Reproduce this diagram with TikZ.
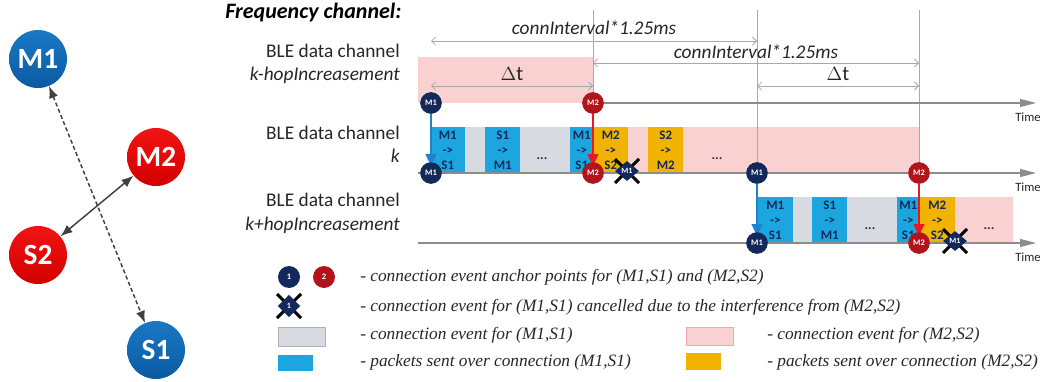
\documentclass[tikz,border=0pt]{standalone}
\usepackage{fontspec}
\setmainfont{Carlito}
\newfontfamily\legfont{Liberation Serif}
\usetikzlibrary{arrows.meta,shapes.geometric}
\definecolor{navy}{HTML}{14295B}
\definecolor{dred}{HTML}{B3141C}
\definecolor{pblue}{HTML}{1BA6E0}
\definecolor{pgrey}{HTML}{D7DAE1}
\definecolor{ppink}{HTML}{FAD1D1}
\definecolor{porange}{HTML}{F2B300}
\definecolor{nbluet}{HTML}{1A78C4}
\definecolor{nblueb}{HTML}{0B5AA3}
\definecolor{nredt}{HTML}{F21414}
\definecolor{nredb}{HTML}{D20000}
\definecolor{arrblue}{HTML}{1E82CE}
\definecolor{arrred}{HTML}{EA1820}
\definecolor{guide}{HTML}{A8A8A8}
\definecolor{txt}{HTML}{262626}
\begin{document}
\begin{tikzpicture}[x=0.75pt,y=-0.75pt,
  bignode/.style={circle,minimum size=43.5pt,inner sep=0pt,text=white,font=\bfseries\fontsize{22}{22}\selectfont},
  bluenode/.style={bignode,top color=nbluet,bottom color=nblueb},
  rednode/.style={bignode,top color=nredt,bottom color=nredb},
  link/.style={draw=black!75,line width=1.1pt,{Latex[length=9pt,width=7pt]}-{Latex[length=9pt,width=7pt]}},
  anc/.style={circle,minimum size=16pt,inner sep=0pt,text=white,font=\bfseries\fontsize{6.3}{6.3}\selectfont},
  ancb/.style={anc,fill=navy},
  ancr/.style={anc,fill=dred},
  xmark/.style={diamond,fill=navy,inner sep=0pt,minimum width=18pt,minimum height=15pt,text=white,font=\bfseries\fontsize{6}{6}\selectfont},
  xline/.style={line width=2.2pt,black},
  blk/.style={rectangle,inner sep=0pt,minimum height=34.5pt,anchor=north west,align=center,text=navy,font=\bfseries\fontsize{9.75}{11.2}\selectfont},
  bblk/.style={blk,fill=pblue},
  oblk/.style={blk,fill=porange},
  dots/.style={text=navy,font=\bfseries\fontsize{10}{10}\selectfont},
  axis/.style={draw=black!45,line width=0.8pt,-{Triangle[length=12pt,width=6pt]}},
  axisline/.style={draw=black!45,line width=0.8pt},
  guideline/.style={draw=guide,line width=0.6pt},
  dim/.style={draw=guide,line width=0.6pt,{Straight Barb[length=3pt,width=6pt]}-{Straight Barb[length=3pt,width=6pt]}},
  dimlabel/.style={anchor=base,text=txt,font=\itshape\fontsize{14.5}{17}\selectfont},
  rowlab/.style={anchor=base east,text=txt,font=\fontsize{14.5}{17}\selectfont,inner sep=0pt},
  timel/.style={anchor=base,text=txt,font=\fontsize{9.5}{10}\selectfont,inner sep=0pt},
  legtext/.style={anchor=west,text=txt,font=\legfont\itshape\fontsize{13}{15}\selectfont,inner sep=0pt},
  pushb/.style={draw=arrblue,line width=1.6pt,-{Triangle[length=9pt,width=8pt]},shorten >=-3pt},
  pushr/.style={draw=arrred,line width=1.6pt,-{Triangle[length=9pt,width=8pt]},shorten >=-3pt}
]
\useasboundingbox (0,0) rectangle (1043,382);

% ---------- left: topology ----------
\node[bluenode] (M1) at (38,59) {M1};
\node[rednode] (M2) at (156,157) {M2};
\node[rednode] (S2) at (38,255) {S2};
\node[bluenode] (S1) at (156,350) {S1};
\draw[link,dash pattern=on 3pt off 2pt] (M1) -- (S1);
\draw[link] (M2) -- (S2);

% ---------- title and row labels ----------
\node[anchor=base west,inner sep=0pt,text=black,font=\bfseries\itshape\fontsize{16.5}{18}\selectfont] (title) at (225,18) {Frequency channel:};
\node[rowlab] (r1a) at (400,57) {BLE data channel};
\node[rowlab,font=\itshape\fontsize{14.5}{17}\selectfont] (r1b) at (400,80) {k-hopIncreasement};
\node[rowlab] (r2a) at (400,139) {BLE data channel};
\node[rowlab,font=\itshape\fontsize{14.5}{17}\selectfont] (r2b) at (400,162) {k};
\node[rowlab] (r3a) at (400,206) {BLE data channel};
\node[rowlab,font=\itshape\fontsize{14.5}{17}\selectfont] (r3b) at (400,230) {k+hopIncreasement};

% ---------- connection event bands ----------
\fill[ppink] (418,57) rectangle (593,103);
\fill[pgrey] (431,127) rectangle (593,173);
\fill[ppink] (593,127) rectangle (919,173);
\fill[pgrey] (757,197) rectangle (919,243);
\fill[ppink] (919,197) rectangle (1013,243);

% ---------- packets, row k ----------
\node[bblk,minimum width=26.25pt] (p1) at (430,127) {M1\\->\\S1};
\node[bblk,minimum width=26.25pt] (p2) at (485,127) {S1\\->\\M1};
\node[bblk,minimum width=17.25pt] (p3) at (570,127) {M1\\->\\S1};
\node[oblk,minimum width=26.25pt] (p4) at (593,127) {M2\\->\\S2};
\node[oblk,minimum width=26.25pt] (p5) at (648,127) {S2\\->\\M2};
\node[dots] (d1) at (542,159) {...};
\node[dots] (d2) at (717,159) {...};

% ---------- packets, row k+hop ----------
\node[bblk,minimum width=27pt] (q1) at (757,197) {M1\\->\\S1};
\node[bblk,minimum width=26.25pt] (q2) at (812,197) {S1\\->\\M1};
\node[bblk,minimum width=16.5pt] (q3) at (897,197) {M1\\->\\S1};
\node[oblk,minimum width=27pt] (q4) at (919,197) {M2\\->\\S2};
\node[dots] (d3) at (870,229) {...};
\node[dots] (d4) at (989,229) {...};

% ---------- anchor circles (positions) ----------
\node[ancb] (a1) at (431,103) {M1};
\node[ancr] (a2) at (593,103) {M2};
\node[ancb] (b1) at (431,173) {M1};
\node[ancr] (b2) at (593,173) {M2};
\node[ancb] (b3) at (757,173) {M1};
\node[ancr] (b4) at (919,173) {M2};
\node[ancb] (c1) at (757,243) {M1};
\node[ancr] (c2) at (919,243) {M2};

% ---------- guide lines ----------
\coordinate (g1) at (593,10);
\coordinate (g2) at (757,10);
\coordinate (g3) at (919,10);
\draw[guideline] (g1) -- (a2);
\draw[guideline] (g2) -- (b3);
\draw[guideline] (g3) -- (b4);

% ---------- time axes ----------
\coordinate (x1e) at (1036,103);
\coordinate (x2s) at (418,173); \coordinate (x2e) at (1036,173);
\coordinate (x3s) at (418,243); \coordinate (x3e) at (1036,243);
\draw[axis] (a2) -- (x1e);
\draw[axis] (b4) -- (x2e);
\draw[axis] (c2) -- (x3e);
\draw[axisline] (x3s) -- (c1);
\draw[axisline] (c1) -- (c2);
\draw[axisline] (x2s) -- (b1);
\draw[axisline] (b1) -- (b2);
\draw[axisline] (b2) -- (b3);
\draw[axisline] (b3) -- (b4);
\node[timel] (t1) at (1028,121) {Time};
\node[timel] (t2) at (1028,191) {Time};
\node[timel] (t3) at (1028,261) {Time};

% ---------- event pushes ----------
\draw[pushb] (a1) -- (b1);
\draw[pushr] (a2) -- (b2);
\draw[pushb] (b3) -- (c1);
\draw[pushr] (b4) -- (c2);
\node[ancb] at (a1) {M1};
\node[ancr] at (a2) {M2};
\node[ancb] at (b1) {M1};
\node[ancr] at (b2) {M2};
\node[ancb] at (b3) {M1};
\node[ancr] at (b4) {M2};
\node[ancb] at (c1) {M1};
\node[ancr] at (c2) {M2};

% ---------- cancelled events (cross behind the mark) ----------
\coordinate (k1c) at (627,171);
\coordinate (k2c) at (955,241);
\draw[xline] ([shift={(-12,-12)}]k1c) -- ([shift={(12,12)}]k1c);
\draw[xline] ([shift={(-12,12)}]k1c) -- ([shift={(12,-12)}]k1c);
\node[xmark] (k1) at (k1c) {M1};
\draw[xline] ([shift={(-12,-12)}]k2c) -- ([shift={(12,12)}]k2c);
\draw[xline] ([shift={(-12,12)}]k2c) -- ([shift={(12,-12)}]k2c);
\node[xmark] (k2) at (k2c) {M1};

% ---------- dimension arrows ----------
\coordinate (e1a) at (431,41); \coordinate (e1b) at (757,41);
\coordinate (e2a) at (593,63); \coordinate (e2b) at (919,63);
\coordinate (e3a) at (431,86); \coordinate (e3b) at (593,86);
\coordinate (e4a) at (757,86); \coordinate (e4b) at (919,86);
\draw[dim] (e1a) -- (e1b);
\draw[dim] (e2a) -- (e2b);
\draw[dim] (e3a) -- (e3b);
\draw[dim] (e4a) -- (e4b);
\node[dimlabel] (l1) at (594,35) {connInterval*1.25ms};
\node[dimlabel] (l2) at (756,58) {connInterval*1.25ms};
\node[dimlabel,font=\fontsize{15.5}{17}\selectfont] (l3) at (512,80) {$\Delta$t};
\node[dimlabel,font=\fontsize{15.5}{17}\selectfont] (l4) at (838,80) {$\Delta$t};

% ---------- legend ----------
\node[anc,fill=navy,minimum size=16.5pt] (lg1) at (289,277) {1};
\node[anc,fill=dred,minimum size=16.5pt] (lg2) at (324,277) {2};
\coordinate (lg3c) at (289,306);
\draw[xline] ([shift={(-12,-12)}]lg3c) -- ([shift={(12,12)}]lg3c);
\draw[xline] ([shift={(-12,12)}]lg3c) -- ([shift={(12,-12)}]lg3c);
\node[xmark,minimum width=17pt,minimum height=17pt] (lg3) at (lg3c) {1};
\node[rectangle,fill=pgrey,draw=black!30,line width=0.4pt,minimum width=35pt,minimum height=14pt,inner sep=0pt] (lg4) at (301.5,336.5) {};
\node[rectangle,fill=pblue,minimum width=26.25pt,minimum height=12pt,inner sep=0pt] (lg5) at (295.5,363) {};
\node[rectangle,fill=ppink,draw=red!35,line width=0.4pt,minimum width=35pt,minimum height=13.5pt,inner sep=0pt] (lg6) at (709.5,336) {};
\node[rectangle,fill=porange,minimum width=26.25pt,minimum height=12.75pt,inner sep=0pt] (lg7) at (703.5,361.5) {};
\node[legtext] (lt1) at (360,277) {- connection event anchor points for (M1,S1) and (M2,S2)};
\node[legtext] (lt2) at (360,307) {- connection event for (M1,S1) cancelled due to the interference from (M2,S2)};
\node[legtext] (lt3) at (360,335) {- connection event for (M1,S1)};
\node[legtext] (lt4) at (360,362) {- packets sent over connection (M1,S1)};
\node[legtext] (lt5) at (767,335) {- connection event for (M2,S2)};
\node[legtext] (lt6) at (767,362) {- packets sent over connection (M2,S2)};
\end{tikzpicture}
\end{document}
